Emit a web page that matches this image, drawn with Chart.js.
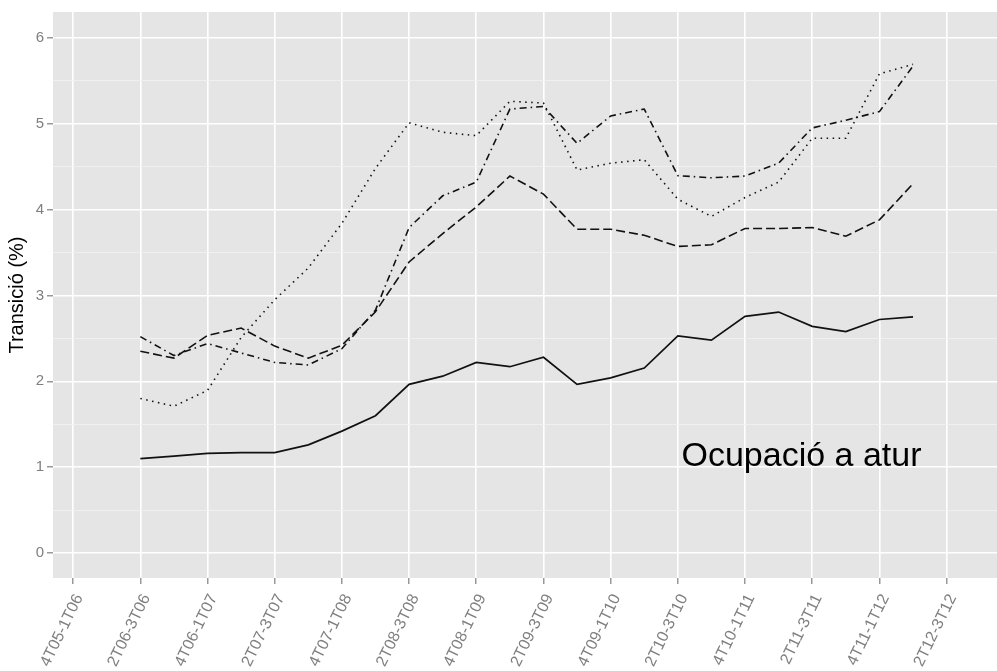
<!DOCTYPE html>
<html>
<head>
<meta charset="utf-8">
<script src="https://cdn.jsdelivr.net/npm/chart.js@4.4.1/dist/chart.umd.min.js"></script>
<style>
  body { margin: 0; background: #fff; }
  canvas { display: block; }
</style>
</head>
<body>
<canvas id="myChart" width="997" height="671"></canvas>
<script>
// periods on the x axis (only every second one is labelled)
const periods = ['4T05-1T06', '1T06-2T06', '2T06-3T06', '3T06-4T06', '4T06-1T07', '1T07-2T07',
  '2T07-3T07', '3T07-4T07', '4T07-1T08', '1T08-2T08', '2T08-3T08', '3T08-4T08', '4T08-1T09',
  '1T09-2T09', '2T09-3T09', '3T09-4T09', '4T09-1T10', '1T10-2T10', '2T10-3T10', '3T10-4T10',
  '4T10-1T11', '1T11-2T11', '2T11-3T11', '3T11-4T11', '4T11-1T12', '1T12-2T12', '2T12-3T12'];
const dataPeriods = periods.slice(2, 26);

const solidVals = [1.10, 1.13, 1.16, 1.17, 1.17, 1.26, 1.42, 1.60, 1.965, 2.06, 2.22, 2.17,
  2.28, 1.965, 2.04, 2.155, 2.53, 2.48, 2.756, 2.806, 2.64, 2.58, 2.72, 2.75];
const dashVals = [2.35, 2.27, 2.535, 2.62, 2.41, 2.27, 2.42, 2.81, 3.39, 3.72, 4.03, 4.39,
  4.18, 3.77, 3.77, 3.70, 3.57, 3.59, 3.78, 3.78, 3.79, 3.69, 3.88, 4.30];
const dashDotVals = [2.52, 2.30, 2.44, 2.33, 2.22, 2.19, 2.38, 2.83, 3.79, 4.16, 4.32, 5.17,
  5.20, 4.77, 5.09, 5.17, 4.395, 4.37, 4.39, 4.54, 4.95, 5.04, 5.14, 5.67];
const dottedVals = [1.80, 1.71, 1.895, 2.51, 2.95, 3.32, 3.84, 4.48, 5.01, 4.90, 4.86, 5.26,
  5.24, 4.46, 4.54, 4.58, 4.12, 3.92, 4.14, 4.32, 4.83, 4.83, 5.58, 5.69];

const yTicks = [0, 1, 2, 3, 4, 5, 6];
const annotationText = 'Ocupació a atur';

const toPoints = vals => vals.map((v, i) => ({ x: periods.indexOf(dataPeriods[i]), y: v }));
const font = 'Liberation Sans';
const grey = '#7f7f7f';

const panelBg = {
  id: 'panelBg',
  beforeDraw(chart) {
    const a = chart.chartArea, c = chart.ctx;
    c.save();
    c.fillStyle = '#e5e5e5';
    c.fillRect(a.left, a.top, a.right - a.left, a.bottom - a.top);
    c.restore();
  },
  afterDatasetsDraw(chart) {
    const c = chart.ctx;
    c.save();
    c.fillStyle = '#000';
    c.font = '34px "' + font + '"';
    c.textAlign = 'center';
    c.textBaseline = 'middle';
    c.fillText(annotationText, chart.scales.x.getPixelForValue(21.68), chart.scales.y.getPixelForValue(1.12));
    c.restore();
  }
};

const line = (label, vals, dash, width) => ({
  label: label,
  data: toPoints(vals),
  borderColor: '#111',
  borderWidth: width,
  borderDash: dash,
  pointRadius: 0,
  tension: 0,
  fill: false
});

new Chart(document.getElementById('myChart'), {
  type: 'line',
  data: {
    datasets: [
      line('A', solidVals, [], 1.7),
      line('B', dashVals, [9, 4], 1.6),
      line('C', dashDotVals, [7, 4, 1.5, 4], 1.6),
      line('D', dottedVals, [1.5, 4.5], 1.6)
    ]
  },
  plugins: [panelBg],
  options: {
    responsive: false,
    animation: false,
    layout: { padding: { top: 11, left: 0, right: 0, bottom: 0 } },
    plugins: {
      legend: { display: false },
      tooltip: { enabled: false }
    },
    scales: {
      x: {
        type: 'linear',
        min: -0.6,
        max: 27.5,
        afterBuildTicks: s => { s.ticks = periods.map((p, i) => i).filter(i => i % 2 === 0).map(v => ({ value: v })); },
        afterFit: s => { s.height = 93; },
        border: { display: false },
        grid: { color: '#fff', lineWidth: 1.6, tickColor: grey, tickLength: 6, tickWidth: 1.2 },
        ticks: {
          autoSkip: false,
          minRotation: 64,
          maxRotation: 64,
          padding: 7,
          labelOffset: 6,
          color: grey,
          font: { family: font, size: 16 },
          callback: v => periods[v]
        }
      },
      y: {
        type: 'linear',
        min: -0.29,
        max: 6.30,
        afterBuildTicks: s => {
          const t = [];
          yTicks.forEach(v => { t.push({ value: v }); if (v < 6) t.push({ value: v + 0.5 }); });
          s.ticks = t;
        },
        afterFit: s => { s.width = 53; },
        border: { display: false },
        grid: {
          color: c => Number.isInteger(c.tick.value) ? '#fff' : '#f2f2f2',
          lineWidth: c => Number.isInteger(c.tick.value) ? 1.6 : 0.8,
          tickColor: c => Number.isInteger(c.tick.value) ? grey : 'rgba(0,0,0,0)',
          tickLength: 6,
          tickWidth: 1.2
        },
        title: {
          display: true,
          text: 'Transició (%)',
          color: '#000',
          font: { family: font, size: 20 },
          padding: { top: 5, bottom: 0 }
        },
        ticks: {
          padding: 3,
          color: grey,
          font: { family: font, size: 15 },
          callback: v => Number.isInteger(v) ? v : ''
        }
      }
    }
  }
});
</script>
</body>
</html>
